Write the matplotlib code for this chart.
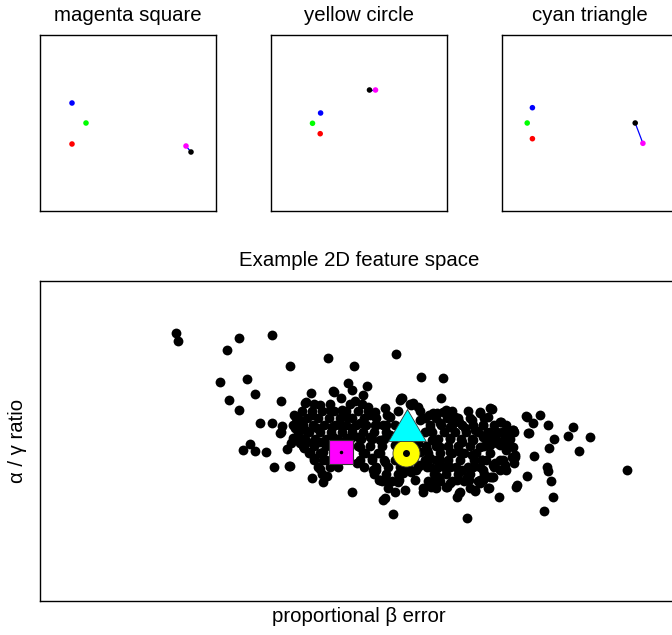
import matplotlib
matplotlib.use('Agg')
import matplotlib.pyplot as plt

plt.rcParams['font.family'] = ['Liberation Sans', 'DejaVu Sans']

# Small panels: five reference points per panel (x, y inside a 0..176 box)
panel_titles = ['magenta square', 'yellow circle', 'cyan triangle']
point_colors = ['blue', '#00ff00', 'red', 'magenta', 'black']
panel_x = [
    [32, 46, 32, 146, 151],
    [49.6, 41.5, 49.2, 104.5, 98.5],
    [30.4, 25.2, 30.4, 140.9, 133.2],
]
panel_y = [
    [108, 88, 67, 65, 59],
    [98, 87.7, 77.3, 121, 121],
    [103.3, 88, 72.3, 67.7, 88],
]

# Feature space cloud, read point by point (x = proportional beta error,
# y = alpha/gamma ratio, in picture units of the main panel)
cloud_x = [
    176, 178, 239, 272, 227, 328, 290, 354, 396,
    220, 247, 255, 229, 239, 281, 421, 443, 441,
    260, 272, 282, 280,
    243, 250, 255, 266, 287, 274, 289,
    312, 323, 327, 352, 383, 385, 393, 467,
    423, 431, 446, 457, 459, 475, 488, 499,
    516, 517, 527, 547, 548, 551, 553, 544,
    534, 549, 554, 568, 573, 579, 590, 627,
    526, 540, 533, 548, 529, 492, 480, 500,
    348, 367, 352, 333, 311, 363, 341, 355, 305, 320, 330, 342, 368, 385, 400,
    297, 312, 295, 293, 290, 314, 320, 376, 380, 388, 398, 405, 372, 380, 363,
    358, 370, 375, 383, 390, 360, 347, 332, 317, 305, 307, 320, 323, 323, 330,
    338, 357, 360, 380, 333, 347,
    402, 413, 433, 443, 455, 480, 490, 472, 483, 527, 528, 513, 507, 497, 490,
    475, 465, 450, 440, 430, 432, 427, 440, 450, 462, 473, 480, 490, 500, 513,
    515, 503, 493, 482, 472, 460, 450, 440, 430, 427, 437, 450, 462, 473, 483,
    490, 480, 467, 457, 438, 423, 432, 447, 460, 475, 500, 410, 413, 420, 403,
    488, 501, 489, 492, 483, 482, 495, 505, 513, 515, 507, 498, 488, 483, 487,
    497, 507, 513, 505, 483,
    375, 387, 395, 420, 425, 390, 395, 385, 395, 418, 420, 415, 345, 340, 300,
    310, 300, 352, 370, 405, 395,
    334, 306, 401, 411, 418, 429, 437, 446, 454, 459,
    294, 296, 300, 281, 291, 304,
    431, 435, 450, 469, 480, 493, 506, 514, 512, 506, 497, 508, 514,
    373, 379, 388, 399, 411, 416,
]
cloud_y = [
    333, 341, 338, 335, 350, 358, 366, 366, 354,
    382, 379, 394, 400, 410, 401, 377, 378, 398,
    423, 423, 426, 433,
    450, 444, 451, 452, 449, 467, 466,
    478, 482, 476, 492, 500, 498, 514, 518,
    492, 486, 487, 497, 493, 491, 488, 497,
    487, 485, 476, 467, 471, 481, 497, 511,
    456, 448, 439, 436, 427, 451, 437, 470,
    416, 415, 423, 425, 433, 409, 413, 422,
    383, 386, 390, 391, 393, 395, 398, 401, 403, 405, 410, 410, 407, 408, 400,
    417, 415, 428, 438, 466, 458, 469, 470, 480, 482, 482, 470, 458, 453, 453,
    437, 437, 425, 425, 417, 423, 417, 427, 428, 430, 442, 442, 452, 460, 467,
    467, 463, 447, 440, 437, 438,
    398, 403, 413, 412, 417, 412, 408, 420, 425, 417, 433, 430, 433, 432, 438,
    430, 428, 427, 423, 428, 440, 450, 447, 438, 442, 440, 447, 445, 445, 447,
    457, 460, 465, 460, 455, 452, 452, 460, 458, 467, 468, 467, 470, 467, 470,
    477, 480, 477, 480, 477, 488, 485, 487, 492, 490, 470, 470, 460, 452, 473,
    417, 422, 488, 477, 480, 460, 463, 465, 458, 455, 445, 442, 443, 437, 433,
    433, 432, 430, 438, 425,
    412, 415, 425, 420, 432, 435, 445, 462, 460, 443, 465, 480, 455, 425, 420,
    452, 443, 428, 415, 490, 492,
    392, 402, 398, 405, 407, 415, 413, 410, 418, 422,
    415, 427, 438, 432, 443, 448,
    487, 480, 483, 480, 483, 477, 470, 463, 457, 450, 443, 437, 432,
    470, 480, 488, 480, 472, 470,
]

# Dense core of the cloud, read row by row: (row y, x positions in that row)
core_rows = [
    (404, [314, 330, 350, 362, 410]),
    (411, [302, 312, 322, 334, 346, 358, 368, 398, 420, 452, 468]),
    (418, [296, 307, 318, 329, 340, 352, 364, 376, 425, 436, 447, 458, 470,
           484]),
    (425, [293, 303, 313, 324, 335, 346, 356, 366, 376, 386, 430, 441, 452,
           462, 473, 494, 506]),
    (432, [298, 309, 320, 331, 342, 352, 363, 374, 386, 432, 444, 455, 466,
           478, 489, 502]),
    (439, [295, 305, 315, 326, 338, 350, 361, 372, 384, 438, 450, 461, 472,
           496, 510]),
    (446, [303, 314, 326, 358, 370, 382, 426, 436, 448, 458, 470, 484, 505]),
    (453, [309, 320, 365, 378, 428, 440, 452, 464, 476, 490]),
    (460, [314, 326, 360, 372, 384, 425, 436, 448, 460, 474, 486, 500]),
    (467, [318, 364, 376, 388, 400, 418, 430, 444, 456, 468, 480, 494]),
    (474, [322, 374, 386, 398, 434, 446, 458, 470, 484]),
    (481, [382, 392, 428, 440, 452, 464, 478]),
    (488, [436, 470]),
]
for row_y, row_xs in core_rows:
    cloud_x += row_xs
    cloud_y += [row_y] * len(row_xs)

# Highlighted samples (x, y) matching the panel titles
square_xy = (341, 451.5)
circle_xy = (406, 452.5)
triangle_xy = (406.5, 424.8)

fig = plt.figure(figsize=(6.72, 6.35), dpi=100)
W, H = 672, 635


def box(left, top, width, height):
    return [left / W, (H - top - height) / H, width / W, height / H]


# top row
lefts = [40, 271, 502]
for i in range(3):
    ax = fig.add_axes(box(lefts[i], 35, 176, 176))
    ax.plot([panel_x[i][4], panel_x[i][3]], [panel_y[i][4], panel_y[i][3]],
            color='blue', lw=0.9, zorder=1)
    ax.scatter(panel_x[i], panel_y[i], c=point_colors, s=16, linewidths=0, zorder=2)
    ax.set_xlim(0, 176)
    ax.set_ylim(0, 176)
    ax.set_xticks([])
    ax.set_yticks([])
    for sp in ax.spines.values():
        sp.set_linewidth(1.0)
    ax.set_title(panel_titles[i], fontsize=14.7, pad=10)

# main feature space
ax = fig.add_axes(box(40, 281, 638, 320))
px = [v - 40 for v in cloud_x]
py = [601 - v for v in cloud_y]
ax.scatter(px, py, s=50, c='black', linewidths=0, zorder=2)

# slightly flattened triangle, as in the original
tri = [(0, 0.85), (-1, -0.85), (1, -0.85), (0, 0.85)]

ax.plot(square_xy[0] - 40, 601 - square_xy[1], marker='s', ms=16.6,
        mfc='magenta', mec='#333333', mew=0.8, ls='none', zorder=3)
ax.plot(square_xy[0] - 40, 601 - square_xy[1], marker='o', ms=1.5,
        color='black', ls='none', zorder=4)
ax.plot(circle_xy[0] - 40, 601 - circle_xy[1], marker='o', ms=19.5,
        mfc='yellow', mec='#333333', mew=0.6, ls='none', zorder=3)
ax.plot(circle_xy[0] - 40, 601 - circle_xy[1], marker='o', ms=4,
        color='black', ls='none', zorder=4)
ax.plot(triangle_xy[0] - 40, 601 - triangle_xy[1], marker=tri, ms=27,
        mfc='cyan', mec='#333333', mew=0.6, ls='none', zorder=3)

ax.set_xlim(0, 638)
ax.set_ylim(0, 320)
ax.set_xticks([])
ax.set_yticks([])
for sp in ax.spines.values():
    sp.set_linewidth(1.0)
ax.set_title('Example 2D feature space', fontsize=14.7, pad=11)
ax.set_xlabel('proportional β error', fontsize=14.7, labelpad=4)
ax.set_ylabel('α / γ ratio', fontsize=14.7, labelpad=9)

fig.savefig('out.png', dpi=100)
